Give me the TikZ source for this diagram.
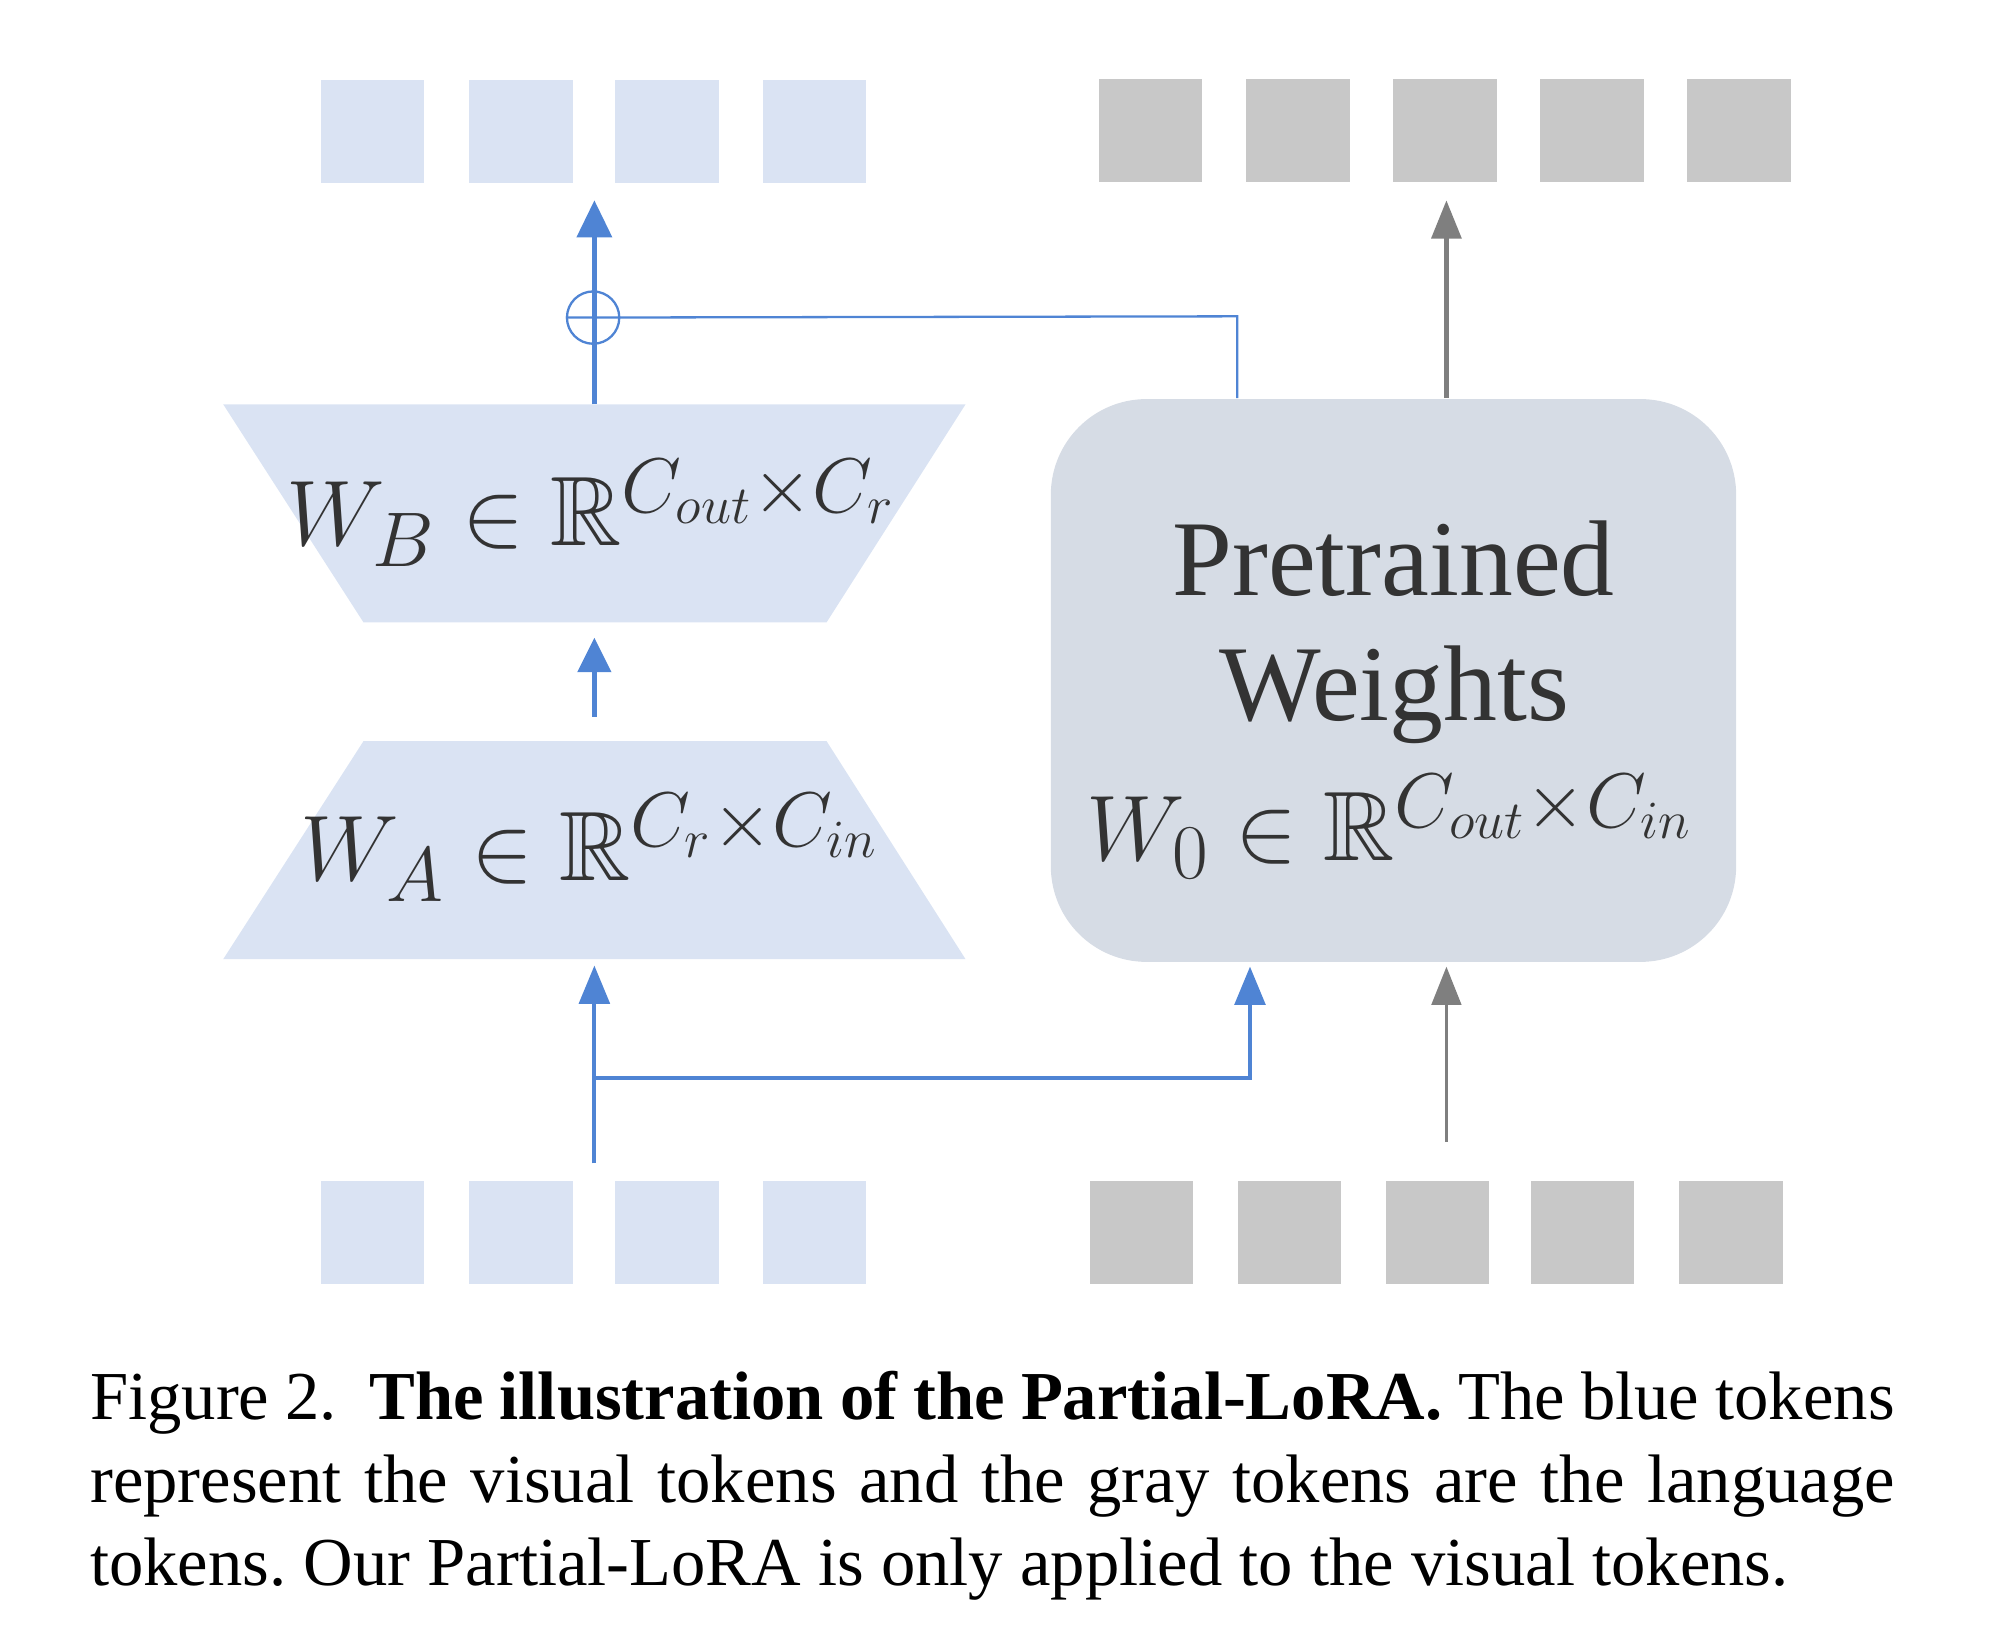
\documentclass[tikz,border=0pt]{standalone}
\usepackage{fontspec}
\usepackage{amssymb}
\setmainfont{Liberation Serif}
\DeclareMathSizes{22}{22}{16.5}{13}
\usetikzlibrary{arrows.meta,calc}
\definecolor{lblue}{HTML}{DAE3F3}
\definecolor{tgray}{HTML}{C8C8C8}
\definecolor{boxc}{HTML}{D6DCE5}
\definecolor{ablue}{HTML}{4F84D4}
\definecolor{agray}{HTML}{7F7F7F}
\definecolor{txt}{HTML}{333333}
\frenchspacing
\begin{document}
\begin{tikzpicture}[x=0.01cm,y=-0.01cm,
  tok/.style={rectangle, minimum width=0.81cm, minimum height=0.81cm, inner sep=0pt, draw=none},
  btok/.style={tok, fill=lblue},
  gtok/.style={tok, fill=tgray},
  trapfill/.style={fill=lblue, draw=none},
  mathtxt/.style={text=txt, font=\fontsize{22}{26}\selectfont, inner sep=0pt},
  pwtxt/.style={text=txt, font=\fontsize{24}{28}\selectfont, inner sep=0pt},
  bigb/.style={draw=ablue, line width=0.04cm, -{Triangle[length=0.29cm,width=0.27cm]}},
  midb/.style={draw=ablue, line width=0.035cm, -{Triangle[length=0.27cm,width=0.26cm]}},
  lowb/.style={draw=ablue, line width=0.03cm, -{Triangle[length=0.3cm,width=0.24cm]}},
  thinb/.style={draw=ablue, line width=0.018cm},
  bigg/.style={draw=agray, line width=0.04cm, -{Triangle[length=0.3cm,width=0.23cm]}},
  lowg/.style={draw=agray, line width=0.03cm, -{Triangle[length=0.3cm,width=0.23cm]}},
  captxt/.style={anchor=base west, inner sep=0pt, text=black, font=\fontsize{15.3}{18.5}\selectfont}
]
\useasboundingbox (0,0) rectangle (1568,1276);

% top tokens
\node[btok] (tb1) at (292,103) {};
\node[btok] (tb2) at (408.5,103) {};
\node[btok] (tb3) at (523,103) {};
\node[btok] (tb4) at (638.5,103) {};
\node[gtok] (tg1) at (902,102.5) {};
\node[gtok] (tg2) at (1017.5,102.5) {};
\node[gtok] (tg3) at (1133,102.5) {};
\node[gtok] (tg4) at (1248,102.5) {};
\node[gtok] (tg5) at (1363.5,102.5) {};

% bottom tokens
\node[btok] (bb1) at (292,966.5) {};
\node[btok] (bb2) at (408.5,966.5) {};
\node[btok] (bb3) at (523,966.5) {};
\node[btok] (bb4) at (638.5,966.5) {};
\node[gtok] (bg1) at (895,966.5) {};
\node[gtok] (bg2) at (1011,966.5) {};
\node[gtok] (bg3) at (1127,966.5) {};
\node[gtok] (bg4) at (1240.5,966.5) {};
\node[gtok] (bg5) at (1357,966.5) {};

% trapezoids
\fill[trapfill] (175,317) -- (757,317) -- (648,488) -- (285,488) -- cycle;
\fill[trapfill] (285,581) -- (648,581) -- (757,752) -- (175,752) -- cycle;
\coordinate (wbN) at (466,317);
\coordinate (wbS) at (466,488);
\coordinate (waN) at (466,581);
\coordinate (waS) at (466,752);
\node[mathtxt, anchor=base] (wbt) at (464,428) {$W_B\in\mathbb{R}^{C_{out}\times C_r}$};
\node[mathtxt, anchor=base] (wat) at (463,690) {$W_A\in\mathbb{R}^{C_r\times C_{in}}$};

% pretrained box
\node[fill=boxc, draw=none, rounded corners=0.75cm, minimum width=5.37cm, minimum height=4.41cm, inner sep=0pt] (pw) at (1092.5,533.5) {};
\node[pwtxt, anchor=base] (pt1) at (1092.5,467) {Pretrained};
\node[pwtxt, anchor=base] (pt2) at (1093,565) {Weights};
\node[mathtxt, anchor=base] (w0t) at (1090,675) {$W_0\in\mathbb{R}^{C_{out}\times C_{in}}$};

% coordinates
\coordinate (outv) at (466,157);
\coordinate (outg) at (1134,157);
\coordinate (rt) at (970,248);
\coordinate (inv) at (466,912);
\coordinate (ing) at (1134,895);
\coordinate (br) at (466,845);
\coordinate (brx) at (980,845);

% plus node
\node[circle, draw=ablue, line width=0.018cm, minimum size=0.41cm, inner sep=0pt] (plus) at (465,249) {};

% connectors top
\draw[bigb] (wbN) -- (outv);
\draw[thinb] (plus.west) -- (rt) -- (rt |- pw.north);
\draw[bigg] (outg |- pw.north) -- (outg);

% middle
\draw[midb, shorten <=0.19cm, shorten >=0.12cm] (waN) -- (wbS);

% bottom
\draw[lowb, shorten >=0.05cm] (inv) -- (waS);
\draw[lowb, shorten >=0.03cm] (br) -- (brx) -- (brx |- pw.south);
\draw[lowg, shorten >=0.03cm] (ing) -- (ing |- pw.south);

% caption
\node[captxt] (cap1) at (70,1113) {\makebox[14.14cm][s]{Figure 2.\ \ \textbf{The illustration of the Partial-LoRA.} The blue tokens}};
\node[captxt] (cap2) at (70,1178) {\makebox[14.14cm][s]{represent the visual tokens and the gray tokens are the language}};
\node[captxt] (cap3) at (70,1243) {tokens. Our Partial-LoRA is only applied to the visual tokens.};
\end{tikzpicture}
\end{document}
